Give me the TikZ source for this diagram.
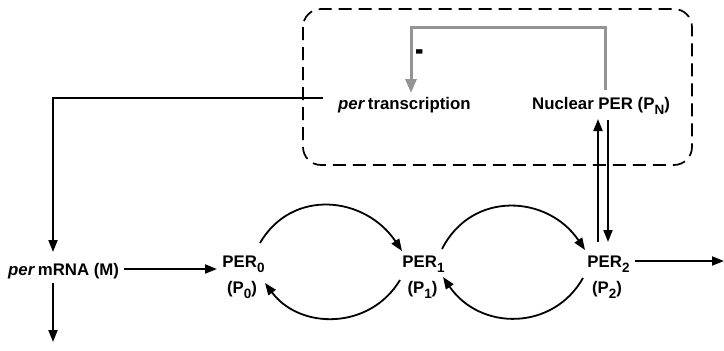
\documentclass[tikz,border=0pt]{standalone}
\usepackage{fontspec}
\setmainfont{Liberation Sans}
\usetikzlibrary{arrows.meta}
\newcommand\sbs[1]{\raisebox{-5.5pt}{\fontsize{13.5}{15}\selectfont #1}}
\tikzset{
  lbl/.style={inner sep=0pt, font=\bfseries\fontsize{16.8}{19}\selectfont},
  arr/.style={line width=1.8pt, -{Triangle[length=12pt,width=9pt]}},
  gr/.style={line width=3pt, draw=black!42, -{Triangle[length=14pt,width=11pt]}},
  dbox/.style={dash pattern=on 13pt off 7pt, line width=1.7pt, rounded corners=18pt}
}
\begin{document}
\begin{tikzpicture}[x=1pt,y=-1pt]
\useasboundingbox (0,0) rectangle (724,351);
\draw[dbox] (303,9) rectangle (692,165);

\node[lbl, anchor=base west] (tr) at (338,109) {\textit{per}\,transcription};
\node[lbl, anchor=base west] (pn) at (532,109) {Nuclear PER (P\sbs{N})};
\node[lbl, anchor=base west] (m) at (8,275) {\textit{per}\,mRNA (M)};
\node[lbl, anchor=base] (p0) at (243.5,267) {PER\sbs{0}};
\node[lbl, anchor=base] (p0b) at (242,293) {(P\sbs{0})};
\node[lbl, anchor=base] (p1) at (423.5,267) {PER\sbs{1}};
\node[lbl, anchor=base] (p1b) at (422.5,293) {(P\sbs{1})};
\node[lbl, anchor=base] (p2) at (608.5,267) {PER\sbs{2}};
\node[lbl, anchor=base] (p2b) at (607,293) {(P\sbs{2})};
\node[lbl, xscale=1.5, yscale=2.2] (minus) at (420,56) {-};

% gray repression feedback
\coordinate (g0) at (605,90);
\coordinate (g1) at (605,27);
\coordinate (g2) at (411,27);
\coordinate (g3) at (411,93);
\draw[gr] (g0) -- (g1) -- (g2) -- (g3);

% transcription -> mRNA
\coordinate (t0) at (323,98);
\coordinate (t1) at (53,98);
\coordinate (t2) at (53,252);
\draw[arr] (t0) -- (t1) -- (t2);

% mRNA degradation
\coordinate (d0) at (53,283);
\coordinate (d1) at (53,342);
\draw[arr] (d0) -- (d1);

% mRNA -> PER0
\coordinate (mp0) at (124,269);
\coordinate (mp1) at (217,269);
\draw[arr] (mp0) -- (mp1);

% PER0 <-> PER1
\coordinate (a0) at (260,243);
\coordinate (a1) at (402,251);
\draw[arr] (a0) .. controls (292,188) and (365,196) .. (a1);
\coordinate (b0) at (400,280);
\coordinate (b1) at (265,283);
\draw[arr] (b0) .. controls (370,330) and (300,330) .. (b1);

% PER1 <-> PER2
\coordinate (c0) at (442,249);
\coordinate (c1) at (585,250);
\draw[arr] (c0) .. controls (472,190) and (548,195) .. (c1);
\coordinate (e0) at (583,278);
\coordinate (e1) at (443,277);
\draw[arr] (e0) .. controls (553,331) and (480,331) .. (e1);

% PER2 degradation
\coordinate (f0) at (635,261);
\coordinate (f1) at (724,261);
\draw[arr] (f0) -- (f1);

% PER2 <-> nuclear PER
\coordinate (u0) at (598,242);
\coordinate (u1) at (598,119);
\draw[arr] (u0) -- (u1);
\coordinate (v0) at (608,120);
\coordinate (v1) at (608,242);
\draw[arr] (v0) -- (v1);
\end{tikzpicture}
\end{document}
